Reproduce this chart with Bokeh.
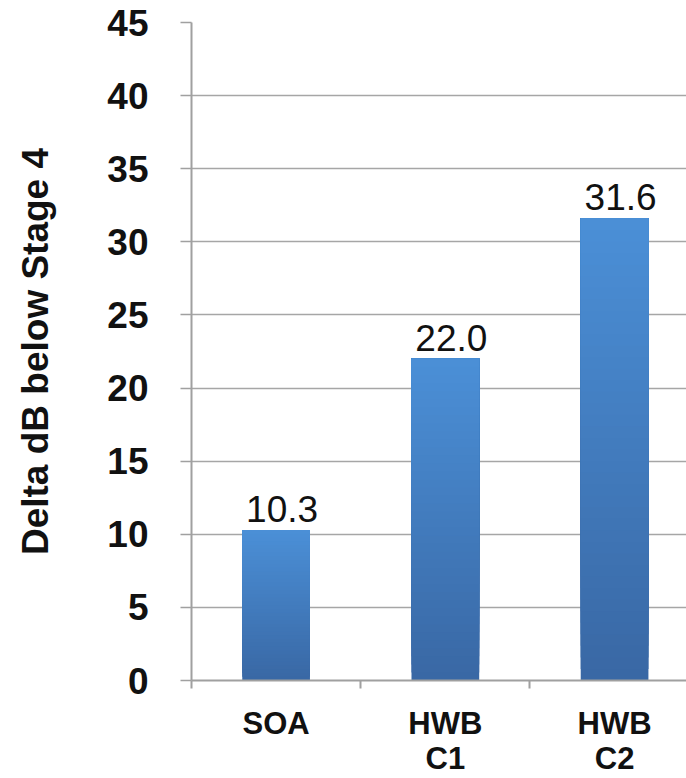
from bokeh.plotting import figure
from bokeh.models import ColumnDataSource, Range1d, FixedTicker
from bokeh.core.properties import value
from bokeh.embed import file_html
from bokeh.resources import INLINE

# Data
categories = ["SOA", "HWB\nC1", "HWB\nC2"]
deltas = [10.3, 22.0, 31.6]
y_ticks = [0, 5, 10, 15, 20, 25, 30, 35, 40, 45]

positions = [i + 0.5 for i in range(len(categories))]
bar_width = 0.4

# Vertical gradient: each bar is built from stacked layers, light at the top, dark at the base.
# Layer k runs from its own start up to the bar's value, so higher layers cover lower ones
# and no seams show between them.
top_rgb = (75, 143, 215)
base_rgb = (57, 104, 164)
n_slices = 40

left, right, bottom, top, colors = [], [], [], [], []
for x, v in zip(positions, deltas):
    for k in range(n_slices):
        f0 = k / n_slices
        t = (k + 0.5) / n_slices
        r = round(base_rgb[0] + (top_rgb[0] - base_rgb[0]) * t)
        g = round(base_rgb[1] + (top_rgb[1] - base_rgb[1]) * t)
        b = round(base_rgb[2] + (top_rgb[2] - base_rgb[2]) * t)
        left.append(x - bar_width / 2)
        right.append(x + bar_width / 2)
        bottom.append(v * f0)
        top.append(v)
        colors.append("#%02x%02x%02x" % (r, g, b))

bars = ColumnDataSource(dict(left=left, right=right, bottom=bottom, top=top, color=colors))
labels = ColumnDataSource(dict(x=positions, y=deltas, text=["%.1f" % d for d in deltas]))

p = figure(
    width=686, height=778,
    x_range=Range1d(0, 2.925), y_range=Range1d(0, 45),
    output_backend="svg", toolbar_location=None,
    min_border_left=191, min_border_right=0, min_border_top=22, min_border_bottom=97,
)
p.outline_line_color = None
p.background_fill_color = "white"
p.border_fill_color = "white"

p.quad(left="left", right="right", bottom="bottom", top="top", color="color",
       line_color=None, source=bars)

p.text(x="x", y="y", text="text", source=labels, text_align="center",
       text_baseline="bottom", x_offset=6, y_offset=-8, text_font=value("Liberation Sans"),
       text_font_size="37px", text_color="#111111")

# Grid
p.xgrid.grid_line_color = None
p.ygrid.ticker = FixedTicker(ticks=y_ticks)
p.ygrid.grid_line_color = "#a6a6a6"
p.ygrid.grid_line_width = 1.5

# Y axis
ya = p.yaxis[0]
ya.ticker = FixedTicker(ticks=y_ticks)
ya.axis_label = "Delta dB below Stage 4"
ya.axis_label_text_font = "Liberation Sans"
ya.axis_label_text_font_style = "bold"
ya.axis_label_text_font_size = "37px"
ya.axis_label_text_color = "#111111"
ya.axis_label_standoff = 48
ya.major_label_text_font = "Liberation Sans"
ya.major_label_text_font_style = "bold"
ya.major_label_text_font_size = "37px"
ya.major_label_text_color = "#111111"
ya.major_label_standoff = 32
ya.axis_line_color = "#a0a0a0"
ya.axis_line_width = 2
ya.major_tick_line_color = "#a0a0a0"
ya.major_tick_line_width = 1.5
ya.major_tick_out = 11
ya.major_tick_in = 0
ya.minor_tick_line_color = None

# X axis: labels at bar centres, ticks at category boundaries
xa = p.xaxis[0]
xa.ticker = FixedTicker(ticks=positions, minor_ticks=[0, 1, 2, 3])
xa.major_label_overrides = {pos: cat for pos, cat in zip(positions, categories)}
xa.major_label_text_font = "Liberation Sans"
xa.major_label_text_font_style = "bold"
xa.major_label_text_font_size = "31px"
xa.major_label_text_color = "#111111"
xa.major_label_text_line_height = 1.0
xa.major_label_standoff = 17
xa.major_tick_line_color = None
xa.major_tick_out = 0
xa.major_tick_in = 0
xa.minor_tick_line_color = "#a0a0a0"
xa.minor_tick_line_width = 2
xa.minor_tick_out = 8
xa.minor_tick_in = 0
xa.axis_line_color = "#a0a0a0"
xa.axis_line_width = 2

open("out.html", "w").write(file_html(p, INLINE))
